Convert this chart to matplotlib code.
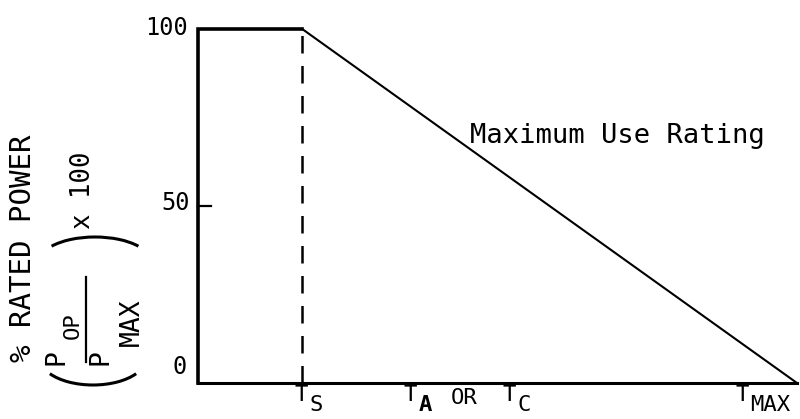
import matplotlib
matplotlib.use("Agg")
import matplotlib.pyplot as plt
from matplotlib.patches import Arc
from matplotlib.transforms import IdentityTransform

# Data (x in arbitrary temperature units, y in % rated power)
curve_x = [0, 0, 17.4, 100]
curve_y = [0, 100, 100, 0]
ts_x = 17.4
y_ticks = [0, 50, 100]
x_tick_pos = [17.4, 35.6, 52.1, 91.0]
x_tick_main = ['T', 'T', 'T', 'T']
x_tick_subs = ['S', 'A', 'C', 'MAX']

plt.rcParams['font.family'] = ['DejaVu Sans Mono']

W, H = 800, 419
fig = plt.figure(figsize=(W / 100, H / 100), dpi=100)
ax = fig.add_axes([198 / W, 36 / H, 599 / W, 354 / H])
ax.set_xlim(0, 100)
ax.set_ylim(0, 100)

def fp(x, y_img):
    return x / W, 1 - y_img / H

ax.plot(curve_x[:3], curve_y[:3], color='black', lw=2.6, clip_on=False,
        solid_capstyle='projecting', solid_joinstyle='miter')
ax.plot(curve_x[2:], curve_y[2:], color='black', lw=1.5, clip_on=False)
ax.plot([ts_x, ts_x], [0, 100], color='black', lw=1.8, ls=(0, (7, 5)), clip_on=False)

for s in ['top', 'right', 'left']:
    ax.spines[s].set_visible(False)
ax.spines['bottom'].set_linewidth(2.2)
ax.set_yticks([])
ax.set_xticks([])

# y tick at 50 (inward "L")
ax.plot([0, 2.2], [50, 50], color='black', lw=1.6, clip_on=False)

# y tick labels
yl = ax.get_yaxis_transform()
ax.annotate(str(y_ticks[2]), xy=(0, y_ticks[2]), xycoords=yl, xytext=(-10, 1),
            textcoords='offset pixels', ha='right', va='center', fontsize=17)
ax.annotate(str(y_ticks[1]), xy=(0, y_ticks[1]), xycoords=yl, xytext=(-8, 3),
            textcoords='offset pixels', ha='right', va='center', fontsize=17)
ax.annotate(str(y_ticks[0]), xy=(0, y_ticks[0]), xycoords=yl, xytext=(-11, 16),
            textcoords='offset pixels', ha='right', va='center', fontsize=17)

# x tick labels
xl = ax.get_xaxis_transform()
for xp, m, sub in zip(x_tick_pos, x_tick_main, x_tick_subs):
    ax.annotate(m, xy=(xp, 0), xycoords=xl, xytext=(6, -2), textcoords='offset pixels',
                ha='right', va='top', fontsize=16)
    ax.annotate(sub, xy=(xp, 0), xycoords=xl, xytext=(7, -12), textcoords='offset pixels',
                ha='left', va='top', fontsize=16,
                fontweight='bold' if sub == 'A' else 'normal')
ax.annotate('OR', xy=((x_tick_pos[1] + x_tick_pos[2]) / 2, 0), xycoords=xl,
            xytext=(3, -5), textcoords='offset pixels', ha='center', va='top', fontsize=16)

fig.text(*fp(470, 143), 'Maximum Use Rating', ha='left', va='baseline', fontsize=19.5)

# y axis title
fig.text(*fp(23, 248), '% RATED POWER', rotation=90, ha='center', va='center', fontsize=21)
fig.text(*fp(83, 190), 'x 100', rotation=90, ha='center', va='center', fontsize=18.5)
fig.text(*fp(57, 357), 'P', rotation=90, ha='center', va='center', fontsize=19)
fig.text(*fp(73, 326), 'OP', rotation=90, ha='center', va='center', fontsize=16)
fig.text(*fp(100, 357), 'P', rotation=90, ha='center', va='center', fontsize=19)
fig.text(*fp(132, 322), 'MAX', rotation=90, ha='center', va='center', fontsize=19)
fig.add_artist(plt.Line2D([86 / W, 86 / W], [1 - 277 / H, 1 - 362 / H],
                          transform=fig.transFigure, color='black', lw=1.6))
ident = IdentityTransform()
fig.add_artist(Arc((95, H - 262), 112, 50, theta1=20, theta2=160,
                   transform=ident, color='black', lw=2.2))
fig.add_artist(Arc((93, H - 358), 106, 54, theta1=200, theta2=340,
                   transform=ident, color='black', lw=2.2))

fig.savefig('out.png', dpi=100)
